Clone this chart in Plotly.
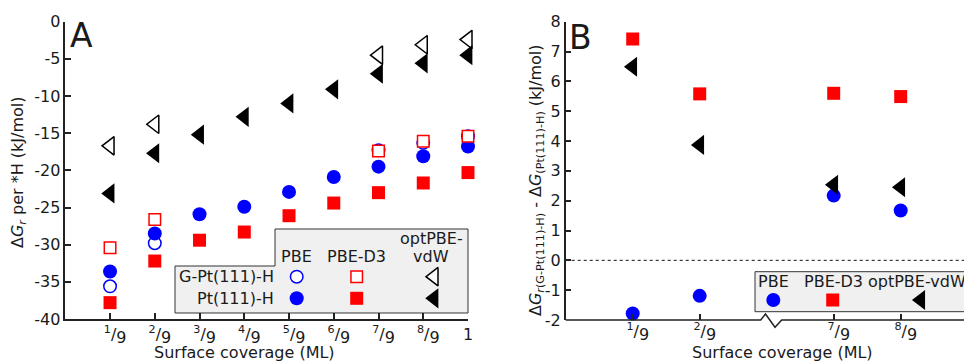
import plotly.graph_objects as go

W, H = 964, 362
FONT = "DejaVu Sans"
INK = "#1a1a1a"
AXC = "#222222"


def frac(n):
    # stacked-looking fraction label n/9 (small raised numerator, lowered denominator)
    return ("\u00a0\u00a0<sup>%d</sup>/<sub><span style='font-size:16px'>9</span></sub>" % n)


# ---------------- data ----------------
# Panel A: surface coverage (ML) and ΔGr per *H (kJ/mol)
coverage_a = [1/9, 2/9, 3/9, 4/9, 5/9, 6/9, 7/9, 8/9, 1.0]
coverage_a_labels = [frac(1), frac(2), frac(3), frac(4), frac(5), frac(6), frac(7), frac(8), "1"]
pbe_gpt = [-35.6, -29.8, None, None, None, None, -17.3, -16.3, -15.4]
pbe_pt = [-33.6, -28.5, -25.9, -24.9, -22.9, -20.9, -19.5, -18.1, -16.8]
d3_gpt = [-30.4, -26.6, None, None, None, None, -17.4, -16.1, -15.4]
d3_pt = [-37.8, -32.2, -29.4, -28.3, -26.1, -24.4, -23.0, -21.7, -20.3]
vdw_gpt = [-16.7, -13.8, None, None, None, None, -4.5, -3.1, -2.4]
vdw_pt = [-23.1, -17.7, -15.2, -12.8, -11.0, -9.1, -7.0, -5.6, -4.5]
y_a_ticks = [0, -5, -10, -15, -20, -25, -30, -35, -40]

# Panel B: ΔGr(G-Pt(111)-H) - ΔG(Pt(111)-H) (kJ/mol), broken coverage axis
coverage_b = ["1/9", "2/9", "7/9", "8/9", "1"]
coverage_b_order = ["1/9", "2/9", "gap", "7/9", "8/9", "1"]
coverage_b_labels = [frac(1), frac(2), frac(7), frac(8), "1"]
diff_pbe = [-1.78, -1.19, 2.17, 1.67, 1.24]
diff_d3 = [7.42, 5.58, 5.60, 5.49, 4.79]
diff_vdw = [6.49, 3.87, 2.53, 2.45, 1.91]
y_b_ticks = [8, 7, 6, 5, 4, 3, 2, 1, 0, -1, -2]

# ---------------- geometry helpers (pixels -> paper) ----------------
def fx(x):
    return x / W


def fy(y):
    return 1 - y / H


A_L, A_R, A_T, A_B = 65.3, 468.0, 21.7, 319.0
B_L, B_T, B_B = 565.7, 21.7, 320.0
B_STEP = 67.0  # px per category on panel B
B_RIGHT_IDX = (W - B_L) / B_STEP - 1

BLUE, RED, BLACK = "#0000ff", "#ff0000", "#000000"

fig = go.Figure()


def add(xs, ys, xa, ya, symbol, size, fill, lc, lw):
    fig.add_trace(go.Scatter(
        x=xs, y=ys, xaxis=xa, yaxis=ya, mode="markers",
        marker=dict(symbol=symbol, size=size, color=fill, line=dict(color=lc, width=lw)),
        cliponaxis=False, showlegend=False, hoverinfo="skip"))


CIRC_F, CIRC_O = 14, 12.5
SQ_F, SQ_O = 13, 11.5
TRI = 17.5

# Panel A
add(coverage_a, pbe_gpt, "x", "y", "circle", CIRC_O, "white", BLUE, 1.5)
add(coverage_a, pbe_pt, "x", "y", "circle", CIRC_F, BLUE, BLUE, 0)
add(coverage_a, d3_gpt, "x", "y", "square", SQ_O, "white", RED, 1.5)
add(coverage_a, d3_pt, "x", "y", "square", SQ_F, RED, RED, 0)
add(coverage_a, vdw_gpt, "x", "y", "triangle-left", TRI - 1.5, "white", BLACK, 1.5)
add(coverage_a, vdw_pt, "x", "y", "triangle-left", TRI, BLACK, BLACK, 0)

# Panel B
add(coverage_b, diff_pbe, "x2", "y2", "circle", CIRC_F, BLUE, BLUE, 0)
add(coverage_b, diff_d3, "x2", "y2", "square", SQ_F, RED, RED, 0)
add(coverage_b, diff_vdw, "x2", "y2", "triangle-left", TRI, BLACK, BLACK, 0)

# Legend keys (drawn on a full-figure pixel overlay axis)
legA_x = [296.7, 356.7, 434.0]
legA_y = [276.7, 298.3]
add([legA_x[0]], [legA_y[0]], "x3", "y3", "circle", CIRC_O, "white", BLUE, 1.5)
add([legA_x[0]], [legA_y[1]], "x3", "y3", "circle", CIRC_F, BLUE, BLUE, 0)
add([legA_x[1]], [legA_y[0]], "x3", "y3", "square", SQ_O, "white", RED, 1.5)
add([legA_x[1]], [legA_y[1]], "x3", "y3", "square", SQ_F, RED, RED, 0)
add([legA_x[2]], [legA_y[0]], "x3", "y3", "triangle-left", TRI - 1.5, "white", BLACK, 1.5)
add([legA_x[2]], [legA_y[1]], "x3", "y3", "triangle-left", TRI, BLACK, BLACK, 0)
legB_y = 300.0
add([773.3], [legB_y], "x3", "y3", "circle", CIRC_F, BLUE, BLUE, 0)
add([832.7], [legB_y], "x3", "y3", "square", SQ_F, RED, RED, 0)
add([920.7], [legB_y], "x3", "y3", "triangle-left", TRI, BLACK, BLACK, 0)

tickfont = dict(family=FONT, size=16, color=INK)
common_axis = dict(showgrid=False, zeroline=False, ticks="inside", ticklen=6, tickwidth=1.5,
                   tickcolor=AXC, linecolor=AXC, linewidth=1.5, tickfont=tickfont, fixedrange=True)

fig.update_layout(
    width=W, height=H, autosize=False,
    margin=dict(l=0, r=0, t=0, b=0, autoexpand=False),
    paper_bgcolor="white", plot_bgcolor="rgba(0,0,0,0)",
    font=dict(family=FONT, size=16, color=INK),
    xaxis=dict(domain=[fx(A_L), fx(A_R)], range=[0, 1], anchor="y",
               tickvals=coverage_a, ticktext=coverage_a_labels, showline=True, **common_axis),
    yaxis=dict(domain=[fy(A_B), fy(A_T)], range=[-40, 0], anchor="x",
               tickvals=y_a_ticks, ticktext=[str(v) for v in y_a_ticks], showline=True, **common_axis),
    xaxis2=dict(domain=[fx(B_L), 1.0], type="category", categoryorder="array",
                categoryarray=coverage_b_order, range=[-1, B_RIGHT_IDX], anchor="y2",
                tickvals=coverage_b, ticktext=coverage_b_labels, showline=False, **common_axis),
    yaxis2=dict(domain=[fy(B_B), fy(B_T)], range=[-2, 8], anchor="x2",
                tickvals=y_b_ticks, ticktext=[str(v) for v in y_b_ticks], showline=True, **common_axis),
    xaxis3=dict(domain=[0, 1], range=[0, W], anchor="y3", visible=False, fixedrange=True),
    yaxis3=dict(domain=[0, 1], range=[H, 0], anchor="x3", visible=False, fixedrange=True),
)

shapes = []


def poly(points, fill, lc, lw):
    d = "M " + " L ".join(f"{fx(x):.5f},{fy(y):.5f}" for x, y in points) + " Z"
    return dict(type="path", path=d, xref="paper", yref="paper", fillcolor=fill,
                line=dict(color=lc, width=lw), layer="below")


# Legend boxes
shapes.append(poly([(175, 266), (275, 266), (275, 229), (468, 229), (468, 313), (175, 313)],
                   "#f0f0f0", "#333333", 1))
shapes.append(poly([(755, 271.7), (975, 271.7), (975, 311.7), (755, 311.7)], "#f0f0f0", "#333333", 1))

# Panel B x-axis line with break
brk = [(B_L, B_B), (760.7, B_B), (765.5, 314.0), (775.0, 327.3), (781.7, B_B), (W + 5, B_B)]
shapes.append(dict(type="path",
                   path="M " + " L ".join(f"{fx(x):.5f},{fy(y):.5f}" for x, y in brk),
                   xref="paper", yref="paper", line=dict(color=AXC, width=1.5), layer="above"))
# Dotted zero line in panel B
shapes.append(dict(type="line", xref="paper", yref="y2", x0=fx(B_L), x1=1.0, y0=0, y1=0,
                   line=dict(color="#111111", width=1, dash="dot"), layer="below"))
fig.update_layout(shapes=shapes)

ann = []


def text(x, y, s, size=16, xanchor="center", angle=0):
    ann.append(dict(x=fx(x), y=fy(y), xref="paper", yref="paper", text=s, showarrow=False,
                    xanchor=xanchor, yanchor="middle", textangle=angle,
                    font=dict(family=FONT, size=size, color=INK)))


text(81, 36, "A", size=33)
text(580, 37, "B", size=33)
text(244, 352, "Surface coverage (ML)")
text(782, 352, "Surface coverage (ML)")
text(18, 172, "Δ<i>G</i><sub><i>r</i></sub> per *H (kJ/mol)", angle=-90)
text(536, 180, "Δ<i>G</i><sub><i>r</i>(G-Pt(111)-H)</sub> - Δ<i>G</i><sub>(Pt(111)-H)</sub> (kJ/mol)",
     size=16, angle=-90)
# Legend A texts
text(296.7, 256.7, "PBE")
text(356.7, 256.7, "PBE-D3")
text(431.0, 238.3, "optPBE-")
text(431.0, 256.7, "vdW")
text(276, 276.7, "G-Pt(111)-H", xanchor="right")
text(276, 298.3, "Pt(111)-H", xanchor="right")
# Legend B texts
text(773.3, 281.7, "PBE")
text(833.0, 281.7, "PBE-D3")
text(866.0, 281.7, "optPBE-vdW", xanchor="left")
fig.update_layout(annotations=ann)

fig.write_html("out.html")
